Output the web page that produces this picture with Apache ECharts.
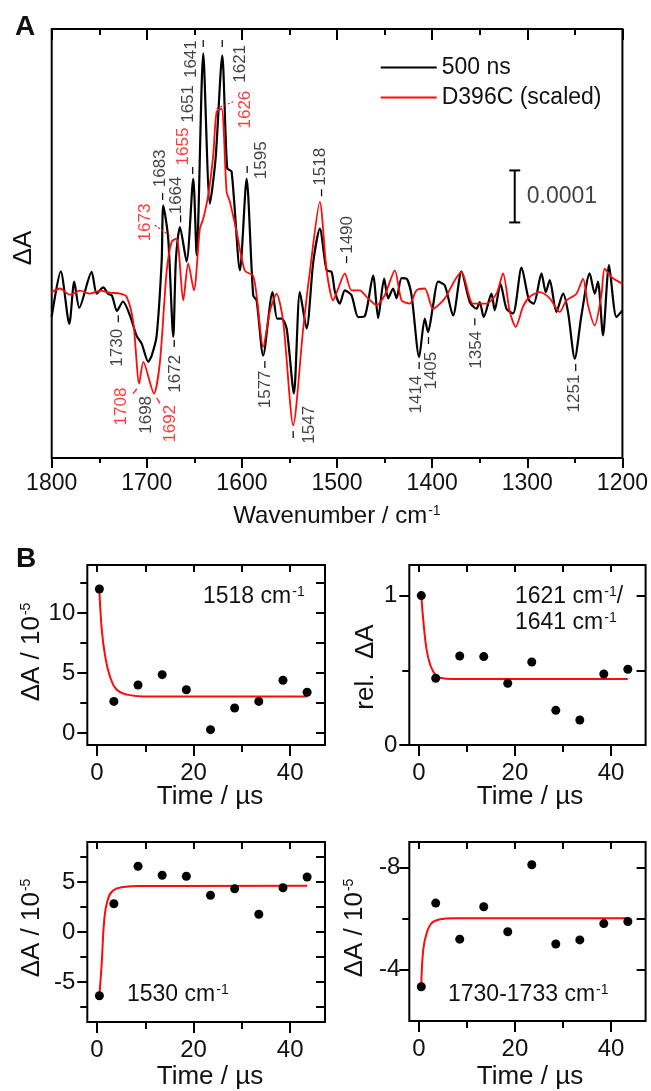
<!DOCTYPE html>
<html><head><meta charset="utf-8">
<script src="https://cdn.jsdelivr.net/npm/echarts@6/dist/echarts.min.js"></script>
<style>html,body{margin:0;padding:0;background:#fff}#c{width:651px;height:1091px}</style>
</head><body><div id="c"></div>
<script>
// ---------- Panel A data (wavenumber cm-1, ΔA in units of 1e-5) ----------
const black500ns = [[1800,-4.8],[1790.5,3.9],[1781.5,-6.2],[1776.3,1.9],[1771,-3.1],[1758,3.8],[1752.7,-0.4],[1745.8,0.8],[1740.8,-0.4],[1736.6,-0.8],[1731.4,-3.7],[1725.1,-1.9],[1717.7,-4.6],[1710.7,-8.5],[1705.4,-10],[1698.5,-13.5],[1694.9,-12.3],[1689.7,-8.5],[1684.4,5.8],[1682.7,16.6],[1677.5,10.2],[1672.2,-8.7],[1669.4,6.3],[1665.2,12.4],[1658.2,5.8],[1651.2,21.7],[1647.6,7.0],[1640.7,45.8],[1633.7,16.9],[1627.7,25.6],[1620.7,45.4],[1615.5,23.7],[1610.9,23.1],[1602.1,4.1],[1595.1,21.7],[1588.2,-0.7],[1584.6,-1.7],[1577.7,-12.3],[1567.8,-0.1],[1562.9,-5.2],[1558.3,-5.2],[1553,-7.1],[1545.4,-19.6],[1539.1,-0.1],[1532,-7.1],[1525,5.7],[1518.1,12.1],[1511,4.1],[1505.8,3.8],[1502.3,0],[1497.1,-2.3],[1491.8,0.25],[1484.8,-0.7],[1477.8,-4.9],[1470.8,-4.7],[1462.1,3.1],[1456.8,-5.1],[1450.5,2.5],[1446.3,-1.3],[1441.1,0.6],[1437.5,-1.3],[1432.2,2.6],[1427,2.5],[1421.7,-0.7],[1413.7,-12.6],[1407.8,-5.2],[1404.3,-7.8],[1399,-2.6],[1393.8,1.9],[1386.7,1.2],[1378,-4.6],[1369.2,3.9],[1360.5,-2.0],[1353.4,-3.3],[1350,-2.0],[1345.8,-4.9],[1337.7,-0.4],[1334.2,-3.6],[1328.2,1.5],[1321.9,-3.3],[1315,-4.2],[1306.1,4.6],[1298.2,-1.7],[1293.2,-2.3],[1285.1,3.5],[1280.6,-0.1],[1276.4,2.2],[1269.4,-3.9],[1262.4,-0.4],[1257.2,-3.9],[1250.1,-12.9],[1243.1,-4.6],[1234.4,3.5],[1229.1,-0.4],[1225.7,1.9],[1220.4,-8.4],[1214.1,5.1],[1206.3,-4.9],[1200,-3.6]];
const d396cScaled = [[1800,-0.1],[1791.3,0.6],[1780.8,-0.6],[1770.3,0.2],[1759.8,-0.4],[1749.2,0.2],[1738.7,-0.2],[1728.2,-0.4],[1721.2,-1.0],[1714.3,-5.8],[1708,-17.7],[1703.7,-13.5],[1692.5,-19.6],[1686.2,-13.5],[1679.2,3.8],[1673.9,9.6],[1668.7,10.2],[1661.7,-1.7],[1656.5,5.4],[1650.5,0.25],[1644.2,12.1],[1640.7,14.0],[1635.5,18.5],[1630.2,26.2],[1626.6,34.6],[1621.4,35.2],[1616.1,19.2],[1612.7,17.3],[1605.6,11.5],[1596.9,4.0],[1588.5,3.1],[1584.6,-0.7],[1577.7,-10.6],[1570.6,-3.8],[1563.6,-0.4],[1556.6,-5.8],[1546.1,-25.7],[1535.6,-7.1],[1528.6,3.8],[1518.1,17.25],[1511,4.1],[1504.1,-1.7],[1499.2,0.4],[1491.8,3.5],[1484.8,0.25],[1476.1,0.25],[1469,-1.0],[1458.5,-2.6],[1449.8,-0.7],[1439.3,4.1],[1432.2,-1.7],[1423.5,-2.3],[1416.5,0.25],[1407.8,0.6],[1399,-3.3],[1386.7,-1.3],[1376.2,2.2],[1369.2,3.8],[1357,-2.3],[1342.9,-2.3],[1332.4,-0.4],[1325.5,3.5],[1318.4,-3.9],[1312.1,-6.8],[1304.5,-2.9],[1297.4,-1.0],[1286.9,-0.1],[1276.4,-1.3],[1265.9,-3.9],[1258.9,-1.7],[1248.3,-0.4],[1241.4,2.5],[1236.2,-2.6],[1229.1,-6.5],[1222.1,-0.7],[1218.6,4.4],[1211.6,2.8],[1200,1.5]];
const wnTicks = [1800,1700,1600,1500,1400,1300,1200];
const scaleBar = [[1313.2,13.3],[1313.2,23.3]];      // 10 units = 0.0001
const scaleBarLabel = [[1313.2,18.3,'0.0001']];
// peak labels: [text, label wavenumber, label ΔA]
const peakLabelsBlack = [['1641',1652.9,44.7],['1621',1602.1,43.8],['1651',1656.5,36.1],['1595',1579.3,25.25],['1518',1518.1,24],['1683',1686.2,23.7],['1664',1668.7,18.5],['1490',1489.4,10.9],['1730',1731.1,-10.8],['1698',1700.9,-23.7],['1672',1670.4,-15.8],['1577',1575.9,-18.8],['1547',1529.3,-25.6],['1414',1417.2,-19.8],['1405',1400.7,-15.2],['1354',1353.4,-11.2],['1251',1250.1,-19.6]];
const peakDashesBlack = [[1640.7,47.7],[1620.7,47.7],[1651.8,23.3],[1594.5,23.5],[1516.3,19.0],[1683.4,18.3],[1664.5,14.0],[1490,6.15],[1730,-5.2],[1671.2,-10],[1575.9,-14],[1546.1,-27.5],[1413.7,-14.2],[1403.9,-9.4],[1355.2,-5.8],[1249.1,-14.6]];
const peakLabelsRed = [['1626',1596.9,35],['1655',1661.7,27.9],['1673',1702,13.3],['1708',1726.4,-22.1],['1692',1675.7,-25.4]];
const redLeadersDashed = [[[1626.6,35.2],[1609.2,36.5]],[[1691.5,12.75],[1673.9,10.5]]];
const redLeadersSolid = [[[1710.4,-18.7],[1714.6,-19.6]],[[1689.7,-20.4],[1686.2,-21.5]]];

// ---------- Panel B data ----------
const timeUs = [0.5,3.5,8.5,13.5,18.5,23.5,28.5,33.5,38.5,43.5];
const dA1518 = [12.0,2.63,4.0,4.86,3.6,0.28,2.08,2.63,4.4,3.4];
const rel1621 = [1.0,0.447,0.596,0.592,0.413,0.556,0.232,0.167,0.475,0.507];
const dA1530 = [-6.37,2.83,6.57,5.67,5.57,3.67,4.33,1.77,4.43,5.5];
const dA1730 = [-3.34,-6.61,-5.2,-6.47,-5.49,-8.11,-5.01,-5.17,-5.81,-5.89];
const fit1518T = [0.5,1.0,1.7,2.7,4.1,6.2,9.5,43.5];
const fit1518 = [12.0,8.6,6.4,4.7,3.6,3.2,3.05,3.05];
const fit1621T = [0.5,1.25,1.9,3.0,4.4,7.2,43.5];
const fit1621 = [1.0,0.725,0.59,0.49,0.45,0.442,0.442];
const fit1530T = [0.5,1.0,1.5,2.2,3.4,5.5,8.9,43.5];
const fit1530 = [-6.37,-3.0,1.17,3.17,4.17,4.5,4.6,4.63];
const fit1730T = [0.5,0.9,1.6,2.6,4.4,7.2,43.5];
const fit1730 = [-3.34,-4.78,-5.43,-5.82,-5.98,-6.02,-6.02];

const FONT = '"Liberation Sans", Arial, sans-serif';
const TXT = '#111';
const BLACK = '#000';
const RED = '#ff0a0a';
const tickLine = {color:'#000', width:2};
const noLine = {show:false, onZero:false};

const grids = [], xAxes = [], yAxes = [], series = [];

// ---- Panel A layout ----
grids.push({left:51.7, top:29, width:571, height:429, show:true, borderColor:'#000', borderWidth:2});
xAxes.push({gridIndex:0, type:'value', position:'bottom', min:1200, max:1800, interval:100, inverse:true,
  axisLine:noLine, splitLine:{show:false},
  axisTick:{show:true, length:10, lineStyle:tickLine},
  minorTick:{show:true, splitNumber:2, length:5, lineStyle:tickLine}, minorSplitLine:{show:false},
  axisLabel:{fontSize:23, margin:14, color:TXT, fontFamily:FONT, formatter:v=>String(v)}});
xAxes.push({gridIndex:0, type:'value', position:'top', min:1200, max:1800, interval:100, inverse:true,
  axisLine:noLine, splitLine:{show:false},
  axisTick:{show:true, inside:true, length:11, lineStyle:tickLine},
  minorTick:{show:true, splitNumber:2, length:6, lineStyle:tickLine}, minorSplitLine:{show:false},
  axisLabel:{show:false}});
yAxes.push({gridIndex:0, type:'value', min:-32, max:50.5, show:false, axisLine:noLine});

series.push({type:'line', name:'500 ns', xAxisIndex:0, yAxisIndex:0, data:black500ns, symbol:'none', smooth:0.25,
  lineStyle:{color:BLACK, width:2.2}, itemStyle:{color:BLACK}, z:2, silent:true});
series.push({type:'line', name:'D396C (scaled)', xAxisIndex:0, yAxisIndex:0, data:d396cScaled, symbol:'none', smooth:0.25,
  lineStyle:{color:RED, width:1.8}, itemStyle:{color:RED}, z:3, silent:true});
series.push({type:'line', xAxisIndex:0, yAxisIndex:0, data:scaleBar, symbol:'rect', symbolSize:[11,2], showSymbol:true,
  lineStyle:{color:BLACK, width:2}, itemStyle:{color:BLACK, opacity:1}, silent:true, z:4});
series.push({type:'scatter', xAxisIndex:0, yAxisIndex:0, data:scaleBarLabel, symbolSize:0.1, itemStyle:{color:'rgba(0,0,0,0)'},
  label:{show:true, position:'right', distance:12, formatter:p=>p.data[2], fontSize:23, color:TXT, fontFamily:FONT}, silent:true});
function peakLabelSeries(arr, color) {
  return {type:'scatter', xAxisIndex:0, yAxisIndex:0, data:arr.map(d=>[d[1],d[2],d[0]]), symbolSize:0.1,
    itemStyle:{color:'rgba(0,0,0,0)'},
    label:{show:true, position:'inside', rotate:90, formatter:p=>p.data[2], fontSize:17, color:color, fontFamily:FONT},
    silent:true, z:6};
}
series.push(peakLabelSeries(peakLabelsBlack, TXT));
series.push(peakLabelSeries(peakLabelsRed, RED));
series.push({type:'scatter', xAxisIndex:0, yAxisIndex:0, data:peakDashesBlack, symbol:'rect', symbolSize:[1.3,7],
  itemStyle:{color:TXT, opacity:1}, silent:true, z:6});
redLeadersDashed.forEach(seg=>series.push({type:'line', xAxisIndex:0, yAxisIndex:0, data:seg, symbol:'none',
  lineStyle:{color:RED, width:1.2, type:[2,2]}, silent:true, z:6}));
redLeadersSolid.forEach(seg=>series.push({type:'line', xAxisIndex:0, yAxisIndex:0, data:seg, symbol:'none',
  lineStyle:{color:RED, width:1.2}, silent:true, z:6}));

// ---- Panel B builder ----
function addPanel(cfg) {
  const gMain = grids.length;
  grids.push({left:cfg.left, top:cfg.top, width:cfg.width, height:cfg.height, show:true, borderColor:'#000', borderWidth:2});
  const gOver = grids.length;
  grids.push({left:cfg.left, top:cfg.top, width:cfg.width, height:cfg.height, show:false});
  const xBase = {type:'value', min:-2, max:47.2, axisLine:noLine, splitLine:{show:false}};
  const yBase = {type:'value', min:cfg.yMin, max:cfg.yMax, inverse:!!cfg.yInverse, axisLine:noLine, splitLine:{show:false}};
  const xi = xAxes.length;
  xAxes.push(Object.assign({}, xBase, {gridIndex:gMain, position:'bottom',
    axisTick:{show:true, customValues:[0,20,40], length:11, lineStyle:tickLine},
    axisLabel:{customValues:[0,20,40], fontSize:24, margin:16, color:TXT, fontFamily:FONT}}));
  xAxes.push(Object.assign({}, xBase, {gridIndex:gMain, position:'top',
    axisTick:{show:true, inside:true, customValues:[0,10,20,30,40], length:7, lineStyle:tickLine},
    axisLabel:{show:false}}));
  xAxes.push(Object.assign({}, xBase, {gridIndex:gOver, position:'bottom',
    axisTick:{show:true, customValues:[10,30], length:7, lineStyle:tickLine}, axisLabel:{show:false}}));
  const yi = yAxes.length;
  yAxes.push(Object.assign({}, yBase, {gridIndex:gMain, position:'left',
    axisTick:{show:true, customValues:cfg.yMajor, length:10, lineStyle:tickLine},
    axisLabel:{customValues:cfg.yLabels, fontSize:24, margin:cfg.yMargin, color:TXT, fontFamily:FONT}}));
  yAxes.push(Object.assign({}, yBase, {gridIndex:gMain, position:'right',
    axisTick:{show:true, inside:true, customValues:cfg.yMajor.concat(cfg.yMinor), length:9, lineStyle:tickLine},
    axisLabel:{show:false}}));
  yAxes.push(Object.assign({}, yBase, {gridIndex:gOver, position:'left',
    axisTick:{show:true, customValues:cfg.yMinor, length:7, lineStyle:tickLine},
    axisLabel:{show:false}}));
  series.push({type:'line', xAxisIndex:xi, yAxisIndex:yi, data:cfg.fitT.map((t,i)=>[t,cfg.fit[i]]), symbol:'none', smooth:0.45,
    lineStyle:{color:RED, width:2}, silent:true, z:2});
  series.push({type:'scatter', xAxisIndex:xi, yAxisIndex:yi, data:timeUs.map((t,i)=>[t,cfg.vals[i]]), symbolSize:9,
    itemStyle:{color:BLACK, opacity:1}, silent:true, z:3});
}
addPanel({left:87.3, top:565, width:237.7, height:180, yMin:-1, yMax:14, yLabels:[0,5,10], yMajor:[0,5,10], yMinor:[2.5,7.5,12.5], yMargin:12,
  vals:dA1518, fitT:fit1518T, fit:fit1518});
addPanel({left:409.3, top:565, width:236.3, height:180, yMin:0, yMax:1.205, yLabels:[0,1], yMajor:[0,1], yMinor:[0.5], yMargin:12,
  vals:rel1621, fitT:fit1621T, fit:fit1621});
addPanel({left:87.3, top:842, width:237.7, height:180, yMin:-9, yMax:9, yLabels:[-5,0,5], yMajor:[-5,0,5], yMinor:[-7.5,-2.5,2.5,7.5], yMargin:12,
  vals:dA1530, fitT:fit1530T, fit:fit1530});
addPanel({left:409.3, top:842, width:236.3, height:179, yMin:-9, yMax:-2, yInverse:true, yLabels:[-8,-4], yMajor:[-8,-4], yMinor:[-6], yMargin:9,
  vals:dA1730, fitT:fit1730T, fit:fit1730});

// ---- texts ----
const sup = {fontSize:14, verticalAlign:'top', fill:TXT, fontFamily:FONT, padding:[0,0,0,1]};
function txt(x, y, text, size, opts) {
  opts = opts || {};
  return {type:'text', x:x, y:y, rotation:opts.rot||0, silent:true, z:100,
    style:{text:text, fontSize:size, fontFamily:FONT, fontWeight:opts.bold?'bold':'normal', fill:TXT,
      align:opts.align||'center', verticalAlign:'middle', rich:{sup:sup}}};
}
const R = Math.PI/2;
const graphic = [
  txt(25, 27, 'A', 28, {bold:true}),
  txt(26, 559, 'B', 28, {bold:true}),
  txt(24, 248, 'ΔA', 26, {rot:R}),
  txt(337, 516, 'Wavenumber / cm{sup|-1}', 24),
  txt(31.7, 652, 'ΔA / 10{sup|-5}', 26, {rot:R}),
  txt(365.7, 667, 'rel.  ΔA', 26, {rot:R}),
  txt(31.7, 928, 'ΔA / 10{sup|-5}', 26, {rot:R}),
  txt(355, 928, 'ΔA / 10{sup|-5}', 26, {rot:R}),
  txt(210, 797, 'Time / µs', 26),
  txt(530, 797, 'Time / µs', 26),
  txt(210, 1077, 'Time / µs', 26),
  txt(530, 1077, 'Time / µs', 26),
  txt(203, 597, '1518 cm{sup|-1}', 23, {align:'left'}),
  txt(515, 597, '1621 cm{sup|-1}/', 23, {align:'left'}),
  txt(515, 623, '1641 cm{sup|-1}', 23, {align:'left'}),
  txt(127, 995, '1530 cm{sup|-1}', 23, {align:'left'}),
  txt(448, 995, '1730-1733 cm{sup|-1}', 23, {align:'left'})
];

const chart = echarts.init(document.getElementById('c'), null, {renderer:'canvas'});
chart.setOption({
  animation:false,
  backgroundColor:'#fff',
  textStyle:{fontFamily:FONT},
  legend:{data:[{name:'500 ns', icon:'rect'},{name:'D396C (scaled)', icon:'rect'}], orient:'vertical',
    left:375.7, top:51, itemWidth:56, itemHeight:2, itemGap:7, selectedMode:false,
    textStyle:{fontSize:23, color:TXT, fontFamily:FONT}},
  grid:grids, xAxis:xAxes, yAxis:yAxes, series:series, graphic:graphic
});
</script></body></html>
